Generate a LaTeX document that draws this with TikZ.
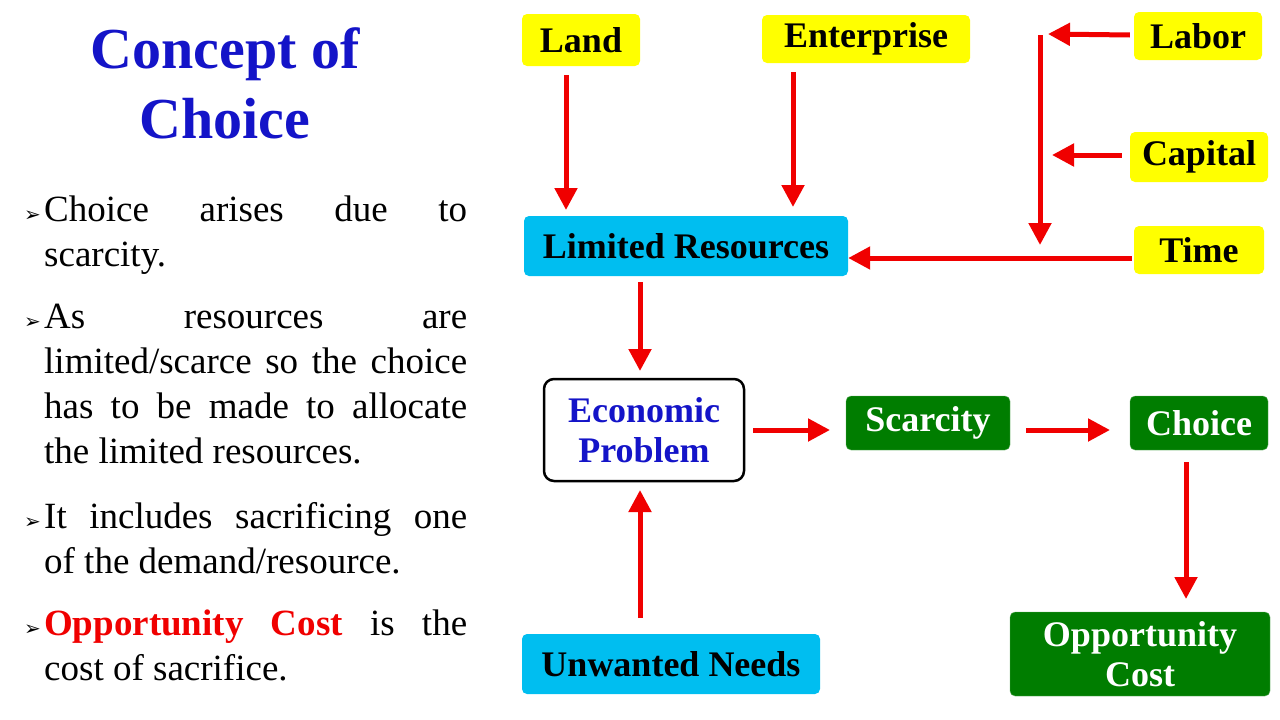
\documentclass[tikz,border=0pt]{standalone}
\usepackage{fontspec}
\setmainfont{Liberation Serif}
\newfontfamily\symb{DejaVu Sans}
\usetikzlibrary{arrows.meta}
\definecolor{gelb}{RGB}{255,255,0}
\definecolor{hellblau}{RGB}{0,190,240}
\definecolor{gruen}{RGB}{0,125,0}
\definecolor{titelblau}{RGB}{20,20,200}
\definecolor{pfeilrot}{RGB}{240,0,0}
\begin{document}
\begin{tikzpicture}[x=1pt,y=-1pt,
  box/.style={rounded corners=5pt,font=\fontsize{36}{40}\selectfont\bfseries,inner sep=0pt,align=center},
  gelbbox/.style={box,fill=gelb},
  blaubox/.style={box,fill=hellblau},
  gruenbox/.style={box,fill=gruen,draw=gruen!60!white,text=white},
  pfeil/.style={draw=pfeilrot,line width=5pt,-{Triangle[length=22pt,width=22pt]}},
  punkt/.style={anchor=north west,text width=423pt,align=justify,inner sep=0pt,
    font=\fontsize{37}{45}\selectfont}]
\useasboundingbox (0,0) rectangle (1280,720);

% Titel
\node[font=\fontsize{58}{70}\selectfont\bfseries,text=titelblau,align=center] (titel) at (225,83) {Concept of\\Choice};

% Text links
\newcommand\pk{\hspace*{-20pt}\makebox[20pt][l]{\symb\fontsize{20}{20}\selectfont ➢}}
\node[punkt] (p1) at (44,196) {\pk Choice arises due to\linebreak scarcity.};
\node[punkt] (p2) at (44,304) {\pk As resources are\linebreak limited/scarce so the choice\linebreak has to be made to allocate\linebreak the limited resources.};
\node[punkt] (p3) at (44,502) {\pk It includes sacrificing one\linebreak of the demand/resource.};
\node[punkt] (p4) at (44,610) {\pk \textcolor{pfeilrot}{\bfseries Opportunity Cost} is the\linebreak cost of sacrifice.};

% Knoten
\node[gelbbox,minimum width=118pt,minimum height=52pt] (land) at (581,40) {Land};
\node[gelbbox,minimum width=208pt,minimum height=48pt] (enterprise) at (866,39) {Enterprise};
\node[gelbbox,minimum width=128pt,minimum height=48pt] (labor) at (1198,36) {Labor};
\node[gelbbox,minimum width=138pt,minimum height=50pt] (capital) at (1199,157) {Capital};
\node[gelbbox,minimum width=130pt,minimum height=48pt] (time) at (1199,250) {Time};
\node[blaubox,minimum width=324pt,minimum height=60pt] (limited) at (686,246) {Limited Resources};
\node[box,draw=black,line width=2.5pt,rounded corners=10pt,text=titelblau,minimum width=200pt,minimum height=102pt] (econ) at (644,430) {Economic\\Problem};
\node[gruenbox,minimum width=164pt,minimum height=54pt] (scarcity) at (928,423) {Scarcity};
\node[gruenbox,minimum width=138pt,minimum height=54pt] (choice) at (1199,423) {Choice};
\node[gruenbox,minimum width=260pt,minimum height=84pt] (opp) at (1140,654) {Opportunity\\Cost};
\node[blaubox,minimum width=298pt,minimum height=60pt] (needs) at (671,664) {Unwanted Needs};

% Pfeile
\coordinate (oben) at (1040,35);
\coordinate (unten) at (1040,245);
\draw[pfeil] (566,75) -- (566,210);
\draw[pfeil] (793,72) -- (793,207);
\draw[pfeil] (oben) -- (unten);
\draw[pfeil] (labor.west) ++(-4,-1) -- (1048,34);
\draw[pfeil] (capital.west) ++(-8,-2) -- (1052,155);
\draw[pfeil] (time.west) ++(-2,8) -- (limited.east |- 0,258);
\draw[pfeil] (limited.south -| 640,0) ++(0,6) -- (640,371);
\draw[pfeil] (econ.east) ++(8,0) -- (830,430);
\draw[pfeil] (scarcity.east) ++(16,7) -- (1110,430);
\draw[pfeil] (1186,462) -- (1186,599);
\draw[pfeil] (640,618) -- (640,490);
\end{tikzpicture}
\end{document}
